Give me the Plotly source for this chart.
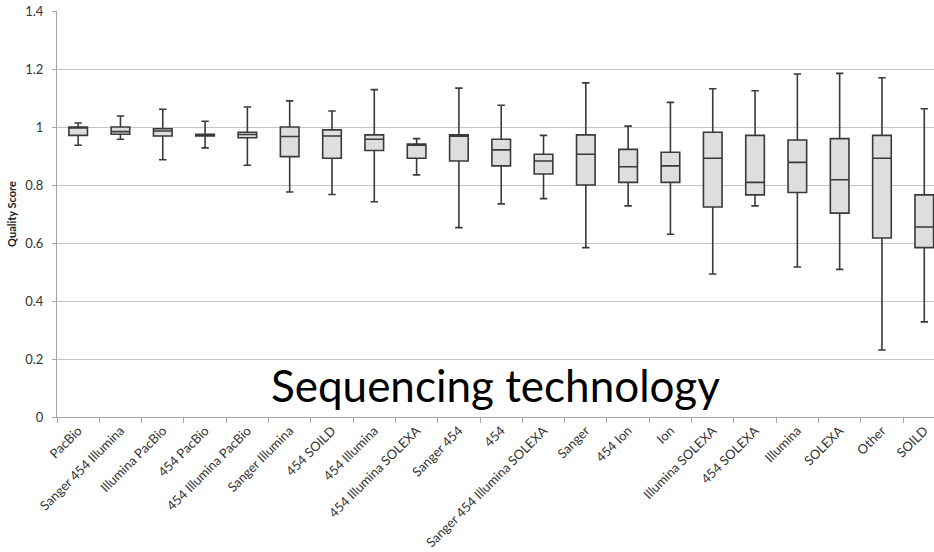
import plotly.graph_objects as go

categories = ["PacBio", "Sanger 454 Illumina", "Illumina PacBio", "454 PacBio",
              "454 Illumina PacBio", "Sanger Illumina", "454 SOILD", "454 Illumina",
              "454 Illumina SOLEXA", "Sanger 454", "454", "Sanger 454 Illumina SOLEXA",
              "Sanger", "454 Ion", "Ion", "Illumina SOLEXA", "454 SOLEXA", "Illumina",
              "SOLEXA", "Other", "SOILD"]

upper_whisker = [1.014, 1.038, 1.061, 1.020, 1.069, 1.090, 1.055, 1.129, 0.960, 1.134, 1.075,
                 0.971, 1.152, 1.003, 1.085, 1.132, 1.125, 1.183, 1.185, 1.170, 1.063]
q3_values = [1.000, 1.000, 0.994, 0.975, 0.982, 1.000, 0.990, 0.973, 0.941, 0.973, 0.958,
             0.906, 0.973, 0.923, 0.913, 0.982, 0.971, 0.955, 0.960, 0.971, 0.766]
medians = [0.998, 0.984, 0.986, 0.972, 0.974, 0.967, 0.969, 0.958, 0.938, 0.968, 0.921,
           0.883, 0.906, 0.863, 0.866, 0.892, 0.809, 0.878, 0.818, 0.892, 0.655]
q1_values = [0.971, 0.975, 0.969, 0.969, 0.963, 0.898, 0.892, 0.919, 0.892, 0.883, 0.866,
             0.838, 0.800, 0.809, 0.809, 0.724, 0.766, 0.774, 0.703, 0.617, 0.584]
lower_whisker = [0.937, 0.958, 0.887, 0.928, 0.868, 0.776, 0.767, 0.742, 0.835, 0.653, 0.735,
                 0.753, 0.584, 0.728, 0.630, 0.493, 0.728, 0.517, 0.509, 0.231, 0.328]

y_ticks = [0, 0.2, 0.4, 0.6, 0.8, 1.0, 1.2, 1.4]
y_tick_labels = ["0", "0.2", "0.4", "0.6", "0.8", "1", "1.2", "1.4"]

fig = go.Figure()
fig.add_trace(go.Box(
    x=categories,
    q1=q1_values,
    median=medians,
    q3=q3_values,
    lowerfence=lower_whisker,
    upperfence=upper_whisker,
    fillcolor="#dedede",
    line=dict(color="#3a3a3a", width=1.6),
    width=0.44,
    whiskerwidth=0.4,
    boxpoints=False,
    showlegend=False,
    hoverinfo="skip",
))

fig.add_annotation(
    text="Sequencing technology",
    xref="paper", yref="y",
    x=(495 - 57) / 877, y=0.112,
    showarrow=False,
    font=dict(family="Lato", size=44, color="#000000"),
    xanchor="center", yanchor="middle",
)

fig.update_layout(
    width=934, height=552,
    margin=dict(l=57, r=0, t=11, b=135),
    paper_bgcolor="white",
    plot_bgcolor="white",
    font=dict(family="Lato", color="#333333"),
    xaxis=dict(
        type="category",
        categoryorder="array",
        categoryarray=categories,
        range=[-0.5, 20.23],
        tickangle=-45,
        tickson="boundaries",
        ticks="outside",
        ticklen=5,
        tickcolor="#a6a6a6",
        showgrid=False,
        showline=True,
        linecolor="#a6a6a6",
        linewidth=1,
        tickfont=dict(family="Lato", size=13, color="#333333"),
        zeroline=False,
    ),
    yaxis=dict(
        range=[0, 1.4],
        tickvals=y_ticks,
        ticktext=y_tick_labels,
        ticks="outside",
        ticklen=4,
        tickcolor="#a6a6a6",
        ticklabelstandoff=6,
        showgrid=True,
        gridcolor="#c4c4c4",
        gridwidth=1,
        showline=True,
        linecolor="#a6a6a6",
        linewidth=1,
        zeroline=False,
        tickfont=dict(family="Lato", size=13, color="#333333"),
        title=dict(text="<b>Quality Score</b>", font=dict(family="Lato", size=11, color="#222222"), standoff=6),
    ),
)

fig.write_html("out.html")
